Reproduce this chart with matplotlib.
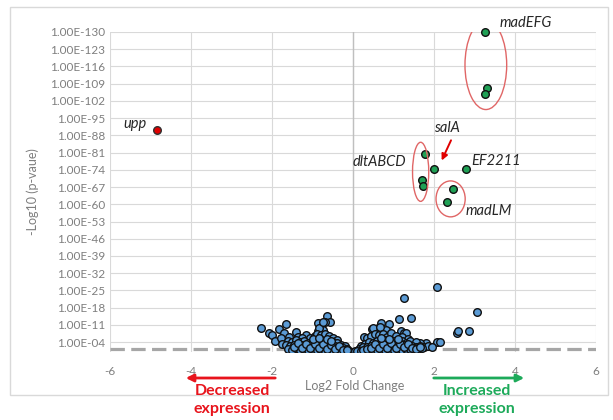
import matplotlib
matplotlib.use("Agg")
import matplotlib.pyplot as plt
from matplotlib.patches import Ellipse, Rectangle, FancyArrowPatch

plt.rcParams['font.family'] = ['Lato', 'DejaVu Sans']

# background genes (log2 FC, -log10 p)
fc_blue = [-2.27, -2.07, -2.01, -1.93, -1.82, -1.65, -1.70, -1.78, -1.57, -1.41, -1.16, -0.87,
           -0.65, -0.58, -0.70, -0.79, -0.75, -0.87, -0.83, -0.73,
           2.07, 1.27, 1.13, 1.42, 2.08, 1.81, 1.65, 0.70, 0.90, 0.47, 0.61, 0.82, 1.19, 1.27,
           1.15, 0.28, 0.90, 1.48, 3.05, 2.57, 2.59, 2.86, 2.14, 0.49, 0.66, 1.31,
           -1.35, -1.25, -1.05, -0.95, -0.90, -0.80, -0.70, -0.60, -0.50, -0.40,
           -1.60, -1.50, -1.40, -1.30, -1.20, -1.10, -1.00, -0.90, -0.80, -0.70, -0.60, -0.50,
           -0.40, -0.30, -0.20,
           -1.75, -1.65, -1.55, -1.45, -1.35, -1.25, -1.15, -1.05, -0.95, -0.85, -0.75, -0.65,
           -0.55, -0.45, -0.35, -0.25, -0.15,
           -1.60, -1.50, -1.40, -1.30, -1.20, -1.10, -1.00, -0.90, -0.80, -0.70, -0.60, -0.50,
           -0.40, -0.30, -0.20, -0.10, -0.05,
           -1.45, -1.35, -1.25, -1.15, -1.05, -0.95, -0.85, -0.75, -0.65, -0.55, -0.45, -0.35,
           -0.25, -0.15, -1.00, -0.85, -0.65, -0.55,
           0.35, 0.45, 0.55, 0.65, 0.75, 0.85, 0.95, 1.05, 1.20, 1.35,
           0.20, 0.30, 0.40, 0.50, 0.60, 0.70, 0.80, 0.90, 1.00, 1.10, 1.20, 1.30, 1.40, 1.55,
           0.15, 0.25, 0.35, 0.45, 0.55, 0.65, 0.75, 0.85, 0.95, 1.05, 1.15, 1.25, 1.35, 1.45,
           1.55, 1.65, 1.75, 1.85, 1.95,
           0.05, 0.10, 0.20, 0.30, 0.40, 0.50, 0.60, 0.70, 0.80, 0.90, 1.00, 1.10, 1.20, 1.30,
           1.40, 1.50, 1.60, 1.70,
           0.25, 0.35, 0.45, 0.55, 0.65, 0.75, 0.85, 0.95, 1.05, 1.15, 1.25, 1.35, 1.45, 1.55,
           1.65, 0.70, 0.90, 1.10]
nlp_blue = [9.9, 7.6, 6.9, 4.6, 9.3, 11.4, 7.6, 5.6, 6.2, 8.3, 6.9, 8.7,
            14.7, 12.3, 12.3, 11.0, 8.9, 11.7, 9.6, 12.3,
            26.3, 22.1, 13.3, 13.7, 4.2, 3.5, 3.5, 11.9, 11.4, 9.2, 9.6, 8.9, 8.7, 7.9,
            5.6, 6.2, 6.9, 3.5, 16.4, 7.9, 8.7, 8.7, 4.2, 9.6, 10.3, 7.9,
            6.0, 5.5, 5.8, 6.5, 7.5, 6.8, 7.2, 6.5, 5.5, 4.8,
            4.5, 4.2, 4.8, 4.0, 4.4, 3.8, 4.6, 4.0, 4.8, 4.2, 3.8, 4.0,
            3.5, 3.0, 2.4,
            3.2, 2.8, 2.4, 3.0, 2.5, 2.9, 2.3, 2.8, 2.2, 2.7, 2.2, 2.6,
            2.1, 2.3, 1.8, 1.6, 1.2,
            1.4, 1.0, 1.5, 0.9, 1.3, 0.8, 1.2, 0.7, 1.0, 0.6, 0.9, 0.5,
            0.8, 0.5, 0.7, 0.4, 0.2,
            2.0, 3.5, 1.8, 3.2, 1.6, 3.4, 1.5, 3.3, 1.4, 3.0, 1.3, 2.6,
            1.0, 0.8, 5.2, 5.6, 5.3, 4.6,
            5.5, 6.5, 7.2, 6.8, 7.5, 6.2, 7.8, 6.5, 6.0, 5.2,
            2.6, 3.4, 4.0, 3.7, 4.5, 4.0, 4.8, 4.2, 4.6, 3.9, 4.4, 3.8, 4.3, 3.9,
            1.4, 1.9, 2.2, 2.6, 2.2, 2.8, 2.3, 2.9, 2.4, 2.8, 2.3, 2.7, 2.2, 2.6,
            2.2, 2.4, 2.0, 2.3, 2.1,
            0.3, 0.6, 0.5, 0.8, 0.6, 1.0, 0.7, 1.1, 0.8, 1.2, 0.9, 1.3, 1.0, 1.4,
            1.1, 1.5, 1.2, 1.6,
            1.0, 1.4, 1.7, 3.1, 1.6, 3.4, 1.7, 3.5, 1.8, 3.3, 1.9, 3.1, 1.8, 1.3,
            1.9, 5.5, 5.3, 5.4]

# highlighted up-regulated genes
fc_green = [3.25, 3.30, 3.25, 1.77, 1.71, 1.74, 1.99, 2.78, 2.46, 2.32]
nlp_green = [130.0, 107.1, 104.8, 80.3, 69.9, 67.5, 74.4, 74.2, 66.3, 60.9]

# down-regulated gene
fc_red = [-4.84]
nlp_red = [90.2]

yticks = list(range(4, 131, 7))
ytick_labels = ['1.00E-%02d' % t for t in yticks]
xticks = [-6, -4, -2, 0, 2, 4, 6]

fig = plt.figure(figsize=(6.13, 4.2), dpi=100)
ax = fig.add_axes([110 / 613, 68 / 420, 486 / 613, 320 / 420])

# chart border
fig.patches.append(Rectangle((10 / 613, 25 / 420), 598 / 613, 388 / 420,
                             transform=fig.transFigure, fill=False,
                             edgecolor='#D9D9D9', lw=1))

ax.set_xlim(-6, 6)
ax.set_ylim(0, 130)
ax.set_yticks(yticks)
ax.set_yticklabels(ytick_labels)
ax.set_xticks(xticks)
ax.set_xticklabels([str(t) for t in xticks])
ax.tick_params(length=0, colors='#7F7F7F', labelsize=8.5)
ax.tick_params(axis='x', pad=10)
for s in ax.spines.values():
    s.set_visible(False)
ax.grid(True, color='#D9D9D9', lw=0.8, zorder=0)
ax.set_axisbelow(True)
ax.axvline(0, color='#BFBFBF', lw=1, zorder=1)

# p = 0.05 threshold
ax.axhline(1.3, color='#A6A6A6', lw=2.3, dashes=(4.5, 2), zorder=2)

ax.scatter(fc_blue, nlp_blue, s=30, c='#5B9BD5', edgecolors='#101010', linewidths=1, zorder=3)
ax.scatter(fc_green, nlp_green, s=30, c='#1FA055', edgecolors='#101010', linewidths=1,
           zorder=4, clip_on=False)
ax.scatter(fc_red, nlp_red, s=30, c='#E00000', edgecolors='#303030', linewidths=1, zorder=4)

# circles around gene clusters
for cx, cy, w, h in [(3.28, 116.6, 1.03, 36.2), (1.67, 73.2, 0.40, 24.0), (2.41, 62.2, 0.72, 14.6)]:
    ax.add_patch(Ellipse((cx, cy), w, h, fill=False, edgecolor='#E06666', lw=1, zorder=5))

lab = dict(fontsize=10.5, style='italic', color='#262626', va='center')
ax.text(-5.1, 92.6, 'upp', ha='right', **lab)
ax.text(3.63, 133.7, 'madEFG', ha='left', clip_on=False, **lab)
ax.text(2.31, 91.0, 'salA', ha='center', **lab)
ax.text(1.32, 77.2, 'dltABCD', ha='right', **lab)
ax.text(2.93, 77.6, 'EF2211', ha='left', **lab)
ax.text(2.78, 57.3, 'madLM', ha='left', **lab)
ax.annotate('', xy=(2.19, 77.8), xytext=(2.42, 86.0),
            arrowprops=dict(arrowstyle='-|>', color='#E00000', lw=1.4, mutation_scale=9,
                            shrinkA=0, shrinkB=0))

ax.set_ylabel('-Log10 (p-vaue)', color='#7F7F7F', fontsize=9, labelpad=8)
fig.text(355 / 613, 1 - 386 / 420, 'Log2 Fold Change', color='#7F7F7F', fontsize=9,
         ha='center', va='center')

# direction arrows
fig.patches.append(FancyArrowPatch(
    (278 / 613, 1 - 378 / 420), (183 / 613, 1 - 378 / 420), transform=fig.transFigure,
    arrowstyle='-|>', mutation_scale=11, color='#E8141C', lw=2))
fig.patches.append(FancyArrowPatch(
    (431 / 613, 1 - 378 / 420), (527 / 613, 1 - 378 / 420), transform=fig.transFigure,
    arrowstyle='-|>', mutation_scale=11, color='#1DAA5A', lw=2))
big = dict(fontsize=11.5, fontweight='bold', ha='center', va='center')
fig.text(232 / 613, 1 - 391 / 420, 'Decreased', color='#E8141C', **big)
fig.text(232 / 613, 1 - 409 / 420, 'expression', color='#E8141C', **big)
fig.text(477 / 613, 1 - 391 / 420, 'Increased', color='#1DAA5A', **big)
fig.text(477 / 613, 1 - 409 / 420, 'expression', color='#1DAA5A', **big)

fig.savefig('out.png', dpi=100)
